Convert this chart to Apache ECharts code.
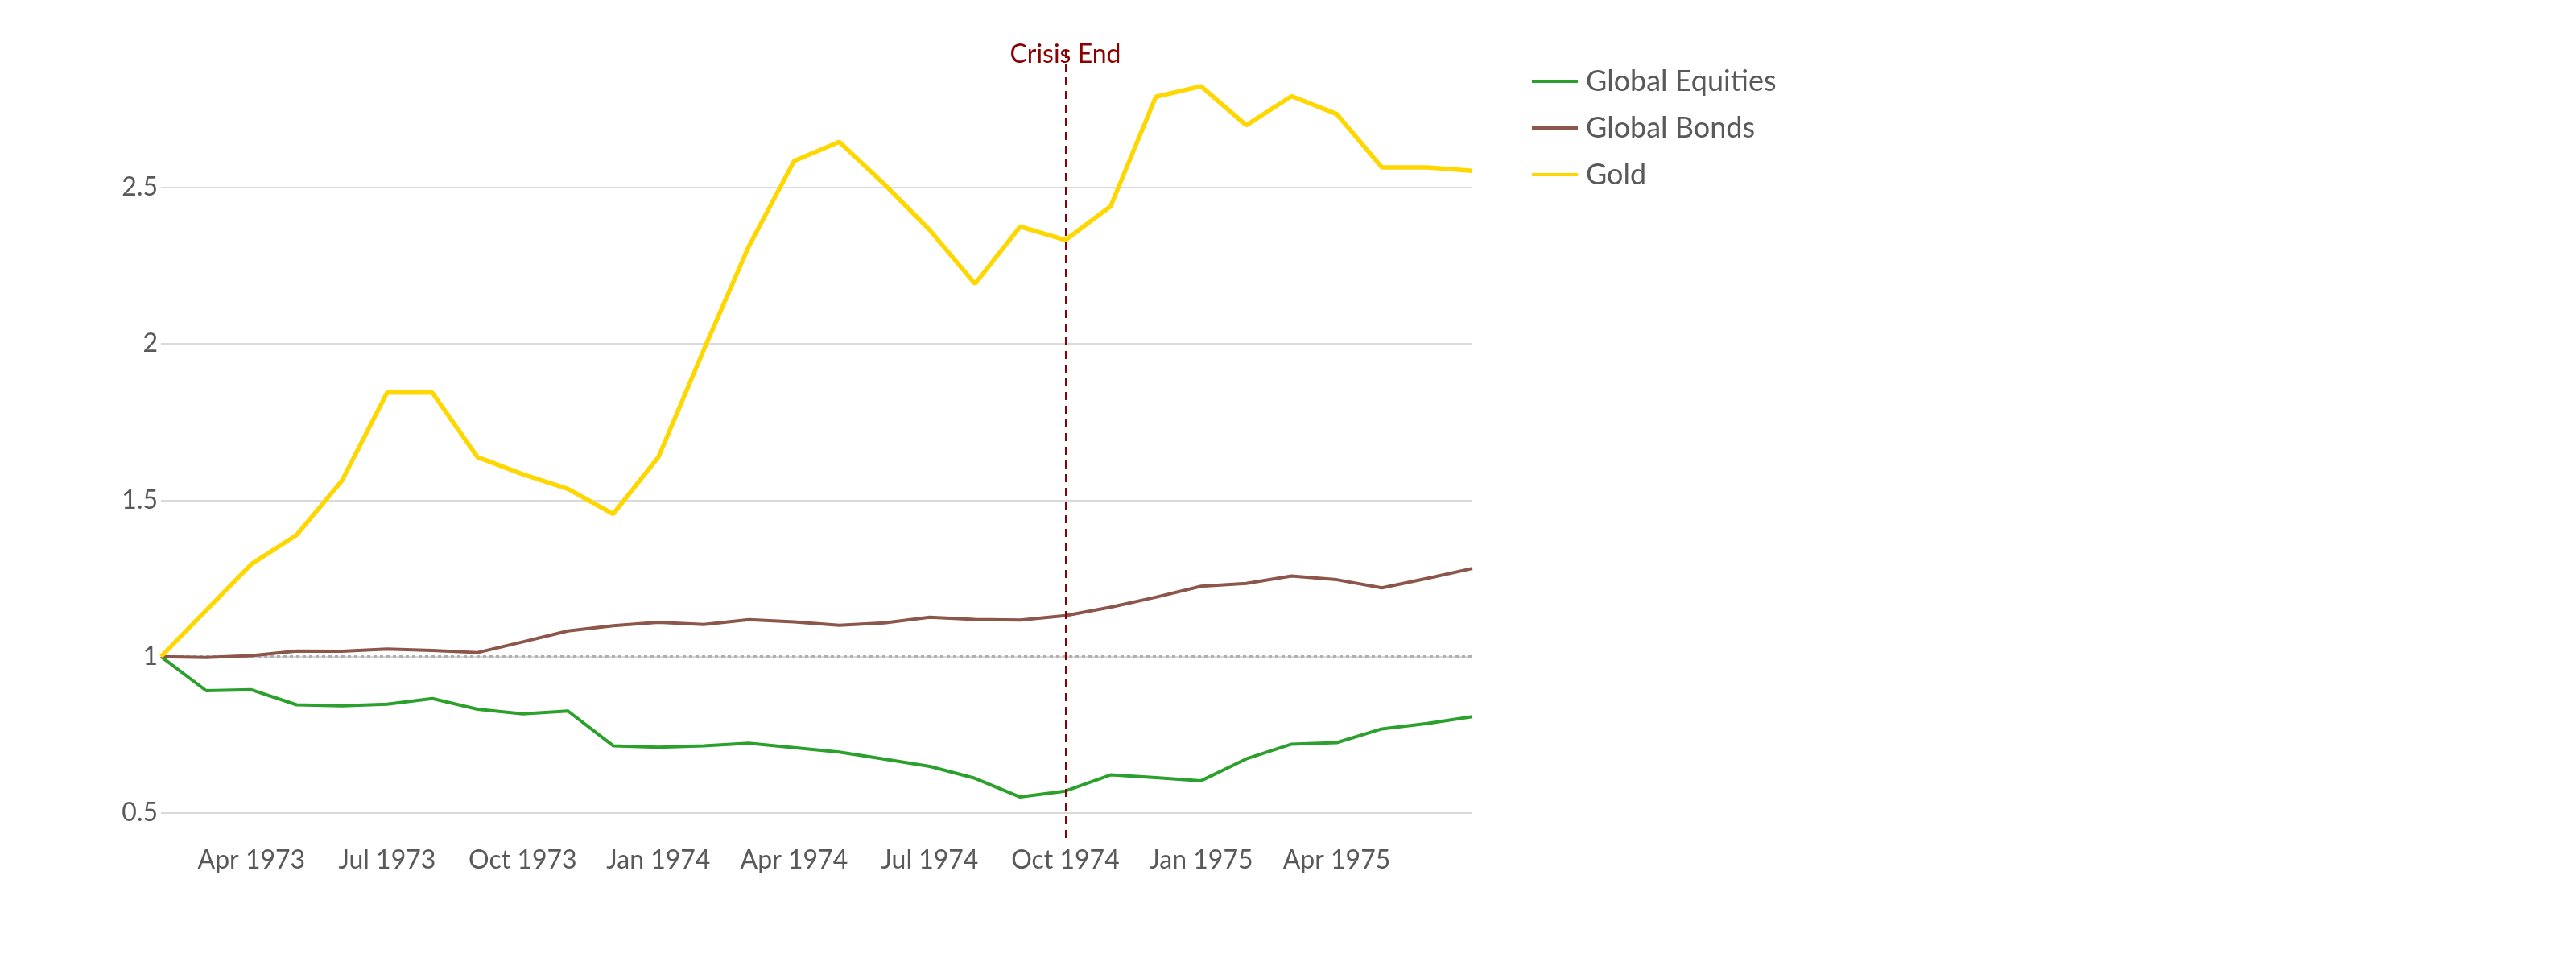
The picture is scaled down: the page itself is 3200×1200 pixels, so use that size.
<!DOCTYPE html>
<html>
<head>
<meta charset="utf-8">
<title>Global Equities, Bonds and Gold</title>
<script src="https://cdn.jsdelivr.net/npm/echarts@6/dist/echarts.min.js"></script>
<style>
  html, body { margin: 0; padding: 0; background: #ffffff; }
  #chart { width: 3200px; height: 1200px; }
</style>
</head>
<body>
<div id="chart"></div>
<script>
const FONT = "Lato, 'Open Sans', sans-serif";
const TEXT_COLOR = "#595959";

const months = [
  "Feb 1973", "Mar 1973", "Apr 1973", "May 1973", "Jun 1973", "Jul 1973",
  "Aug 1973", "Sep 1973", "Oct 1973", "Nov 1973", "Dec 1973", "Jan 1974",
  "Feb 1974", "Mar 1974", "Apr 1974", "May 1974", "Jun 1974", "Jul 1974",
  "Aug 1974", "Sep 1974", "Oct 1974", "Nov 1974", "Dec 1974", "Jan 1975",
  "Feb 1975", "Mar 1975", "Apr 1975", "May 1975", "Jun 1975", "Jul 1975",
];

const globalEquities = [
  1.0, 0.891, 0.894, 0.846, 0.843, 0.848, 0.866, 0.832, 0.817, 0.826,
  0.715, 0.71, 0.715, 0.723, 0.709, 0.695, 0.672, 0.649, 0.611, 0.551,
  0.57, 0.622, 0.613, 0.603, 0.673, 0.72, 0.725, 0.769, 0.786, 0.808,
];

const globalBonds = [
  1.0, 0.997, 1.003, 1.018, 1.017, 1.024, 1.02, 1.013, 1.047, 1.082,
  1.099, 1.11, 1.103, 1.118, 1.111, 1.1, 1.108, 1.126, 1.119, 1.117,
  1.131, 1.158, 1.19, 1.225, 1.234, 1.258, 1.246, 1.22, 1.25, 1.282,
];

const gold = [
  1.0, 1.148, 1.296, 1.389, 1.562, 1.844, 1.844, 1.638, 1.583, 1.536,
  1.456, 1.638, 1.98, 2.312, 2.585, 2.646, 2.51, 2.364, 2.192, 2.375,
  2.332, 2.44, 2.79, 2.824, 2.699, 2.792, 2.735, 2.564, 2.564, 2.553,
];

const yTicks = [0.5, 1, 1.5, 2, 2.5];
const BASELINE = 1;
const CRISIS_END = "Oct 1974";
const CRISIS_LABEL = "Crisis End";

function showQuarterLabel(index) {
  // labels every third month from Apr 1973, last one Apr 1975
  return index % 3 === 2 && index < months.length - 1;
}

function lineSeries(name, data, color, width) {
  return {
    name: name,
    type: "line",
    data: data,
    symbol: "none",
    lineStyle: { color: color, width: width },
    itemStyle: { color: color },
    emphasis: { disabled: true },
  };
}

function buildOption() {
  const equities = lineSeries("Global Equities", globalEquities, "#2ca02c", 4);
  const bonds = lineSeries("Global Bonds", globalBonds, "#8c564b", 4);
  const goldSeries = lineSeries("Gold", gold, "#ffd700", 5.5);

  equities.markLine = {
    silent: true,
    symbol: ["none", "none"],
    label: { show: false },
    lineStyle: { color: "#b0b0b0", type: [4, 4], width: 3 },
    data: [{ yAxis: BASELINE }],
    z: 1,
  };

  goldSeries.markLine = {
    silent: true,
    symbol: ["none", "none"],
    lineStyle: { color: "#8b0000", type: [10, 7], width: 2 },
    label: {
      show: true,
      formatter: CRISIS_LABEL,
      position: "end",
      distance: -22,
      color: "#8b0000",
      fontFamily: FONT,
      fontSize: 32,
    },
    data: [{ xAxis: CRISIS_END }],
  };

  return {
    animation: false,
    backgroundColor: "#ffffff",
    grid: {
      left: 200,
      right: 1371,
      top: 62,
      bottom: 159,
      outerBoundsMode: "none",
    },
    legend: {
      orient: "vertical",
      left: 1898,
      top: 76,
      icon: "rect",
      itemWidth: 57,
      itemHeight: 4,
      itemGap: 18,
      textStyle: {
        color: TEXT_COLOR,
        fontFamily: FONT,
        fontSize: 36,
        lineHeight: 40,
        padding: [0, 0, 0, 5],
      },
      data: ["Global Equities", "Global Bonds", "Gold"],
    },
    xAxis: {
      type: "category",
      data: months,
      boundaryGap: false,
      axisLine: { show: false },
      axisTick: { show: false },
      splitLine: { show: false },
      axisLabel: {
        interval: showQuarterLabel,
        color: TEXT_COLOR,
        fontFamily: FONT,
        fontSize: 32,
        margin: 12,
      },
    },
    yAxis: {
      type: "value",
      min: 0.42,
      max: 2.94,
      axisLine: { show: false },
      axisTick: { show: false, customValues: yTicks },
      axisLabel: {
        customValues: yTicks,
        color: TEXT_COLOR,
        fontFamily: FONT,
        fontSize: 32,
        margin: 4,
      },
      splitLine: { show: true, lineStyle: { color: "#d9d9d9", width: 2 } },
    },
    series: [equities, bonds, goldSeries],
  };
}

function setup() {
  const chart = echarts.init(document.getElementById("chart"), null, { renderer: "canvas" });
  chart.setOption(buildOption());
}

setup();
</script>
</body>
</html>
